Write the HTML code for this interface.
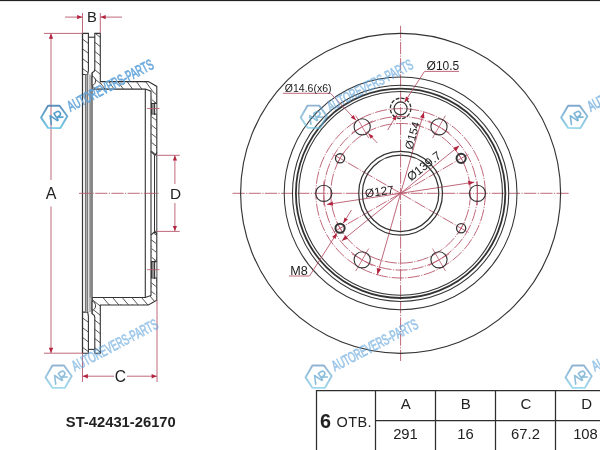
<!DOCTYPE html>
<html><head><meta charset="utf-8"><style>
html,body{margin:0;padding:0;background:#fff;}
svg{display:block;will-change:transform;}
text{font-family:"Liberation Sans",sans-serif;}
</style></head><body>
<svg width="600" height="450" viewBox="0 0 600 450">
<rect width="600" height="450" fill="#fff"/>
<rect x="0" y="0" width="600" height="1" fill="#222"/><rect x="0" y="1" width="600" height="1" fill="#e6e6e6"/>
<line x1="232.50" y1="193.30" x2="569.00" y2="193.30" stroke="#b8586c" stroke-width="0.9" stroke-dasharray="12.2 1.4 1.2 1.4"/>
<line x1="400.60" y1="25.80" x2="400.60" y2="361.00" stroke="#b8586c" stroke-width="0.9" stroke-dasharray="12.2 1.4 1.2 1.4"/>
<circle cx="400.6" cy="193.3" r="69.85" fill="none" stroke="#b8586c" stroke-width="0.9" stroke-dasharray="12.2 1.4 1.2 1.4"/>
<circle cx="400.6" cy="193.3" r="76.8" fill="none" stroke="#b8586c" stroke-width="0.9" stroke-dasharray="12.2 1.4 1.2 1.4"/>
<circle cx="400.6" cy="193.3" r="84.7" fill="none" stroke="#b8586c" stroke-width="0.9" stroke-dasharray="12.2 1.4 1.2 1.4"/>
<line x1="400.60" y1="193.30" x2="469.02" y2="153.80" stroke="#b8586c" stroke-width="0.9" stroke-dasharray="12.2 1.4 1.2 1.4"/>
<line x1="400.60" y1="193.30" x2="332.18" y2="153.80" stroke="#b8586c" stroke-width="0.9" stroke-dasharray="12.2 1.4 1.2 1.4"/>
<line x1="400.60" y1="193.30" x2="332.18" y2="232.80" stroke="#b8586c" stroke-width="0.9" stroke-dasharray="12.2 1.4 1.2 1.4"/>
<line x1="400.60" y1="193.30" x2="469.02" y2="232.80" stroke="#b8586c" stroke-width="0.9" stroke-dasharray="12.2 1.4 1.2 1.4"/>
<line x1="477.40" y1="181.30" x2="477.40" y2="205.30" stroke="#b8586c" stroke-width="0.8" />
<line x1="445.50" y1="115.53" x2="432.50" y2="138.05" stroke="#b8586c" stroke-width="0.8" />
<line x1="428.61" y1="120.79" x2="449.39" y2="132.79" stroke="#b8586c" stroke-width="0.8" />
<line x1="355.70" y1="115.53" x2="368.70" y2="138.05" stroke="#b8586c" stroke-width="0.8" />
<line x1="351.81" y1="132.79" x2="372.59" y2="120.79" stroke="#b8586c" stroke-width="0.8" />
<line x1="323.80" y1="205.30" x2="323.80" y2="181.30" stroke="#b8586c" stroke-width="0.8" />
<line x1="355.70" y1="271.07" x2="368.70" y2="248.55" stroke="#b8586c" stroke-width="0.8" />
<line x1="372.59" y1="265.81" x2="351.81" y2="253.81" stroke="#b8586c" stroke-width="0.8" />
<line x1="445.50" y1="271.07" x2="432.50" y2="248.55" stroke="#b8586c" stroke-width="0.8" />
<line x1="449.39" y1="253.81" x2="428.61" y2="265.81" stroke="#b8586c" stroke-width="0.8" />
<line x1="457.89" y1="152.72" x2="464.39" y2="163.98" stroke="#b8586c" stroke-width="0.8" />
<line x1="336.81" y1="163.98" x2="343.31" y2="152.72" stroke="#b8586c" stroke-width="0.8" />
<line x1="343.31" y1="233.88" x2="336.81" y2="222.62" stroke="#b8586c" stroke-width="0.8" />
<line x1="464.39" y1="222.62" x2="457.89" y2="233.88" stroke="#b8586c" stroke-width="0.8" />
<line x1="474.26" y1="182.16" x2="326.94" y2="204.44" stroke="#b8586c" stroke-width="0.9" />
<path d="M474.26,182.16 L468.67,185.33 L467.99,180.78 Z" fill="#b3243f"/>
<path d="M326.94,204.44 L332.53,201.27 L333.21,205.82 Z" fill="#b3243f"/>
<line x1="459.27" y1="145.79" x2="341.93" y2="240.81" stroke="#b8586c" stroke-width="0.9" />
<path d="M459.27,145.79 L456.06,151.35 L453.16,147.77 Z" fill="#b3243f"/>
<path d="M341.93,240.81 L345.14,235.25 L348.04,238.83 Z" fill="#b3243f"/>
<line x1="423.86" y1="112.17" x2="377.34" y2="274.43" stroke="#b8586c" stroke-width="0.9" />
<path d="M423.86,112.17 L424.42,118.57 L420.00,117.30 Z" fill="#b3243f"/>
<path d="M377.34,274.43 L376.78,268.03 L381.20,269.30 Z" fill="#b3243f"/>
<circle cx="400.6" cy="193.3" r="160" fill="none" stroke="#333" stroke-width="1.15"/>
<circle cx="400.6" cy="193.3" r="116.4" fill="none" stroke="#333" stroke-width="1.05"/>
<circle cx="400.6" cy="193.3" r="108.15" fill="none" stroke="#333" stroke-width="1.05"/>
<circle cx="400.6" cy="193.3" r="104.7" fill="none" stroke="#333" stroke-width="1.8"/>
<circle cx="400.6" cy="193.3" r="101.85" fill="none" stroke="#333" stroke-width="1.05"/>
<circle cx="400.6" cy="193.3" r="41.9" fill="none" stroke="#333" stroke-width="1.25"/>
<circle cx="400.6" cy="193.3" r="38.2" fill="none" stroke="#333" stroke-width="1.25"/>
<circle cx="477.40" cy="193.30" r="8.1" fill="none" stroke="#333" stroke-width="1.1"/>
<circle cx="439.00" cy="126.79" r="8.1" fill="none" stroke="#333" stroke-width="1.1"/>
<circle cx="362.20" cy="126.79" r="8.1" fill="none" stroke="#333" stroke-width="1.1"/>
<circle cx="323.80" cy="193.30" r="8.1" fill="none" stroke="#333" stroke-width="1.1"/>
<circle cx="362.20" cy="259.81" r="8.1" fill="none" stroke="#333" stroke-width="1.1"/>
<circle cx="439.00" cy="259.81" r="8.1" fill="none" stroke="#333" stroke-width="1.1"/>
<circle cx="461.14" cy="158.35" r="4.6" fill="none" stroke="#333" stroke-width="2.0"/>
<circle cx="340.06" cy="158.35" r="4.6" fill="none" stroke="#333" stroke-width="1.3"/>
<circle cx="340.06" cy="228.25" r="4.6" fill="none" stroke="#333" stroke-width="2.0"/>
<circle cx="461.14" cy="228.25" r="4.6" fill="none" stroke="#333" stroke-width="1.3"/>
<circle cx="400.60" cy="108.40" r="6.5" fill="none" stroke="#333" stroke-width="1.2"/>
<circle cx="400.60" cy="108.40" r="10.25" fill="none" stroke="#333" stroke-width="1.3" stroke-dasharray="3.7 1.67"/>
<line x1="424.50" y1="71.40" x2="459.00" y2="71.40" stroke="#b8586c" stroke-width="0.9" />
<line x1="424.50" y1="71.40" x2="404.62" y2="102.18" stroke="#b8586c" stroke-width="0.9" />
<path d="M404.62,102.18 L405.92,96.48 L409.28,98.65 Z" fill="#b3243f"/>
<line x1="396.81" y1="114.75" x2="387.70" y2="130.00" stroke="#b8586c" stroke-width="0.9" />
<path d="M396.81,114.75 L395.70,120.50 L392.27,118.45 Z" fill="#b3243f"/>
<text x="426.60" y="70.00" font-size="12" text-anchor="start" font-weight="normal" fill="#222" >&#216;10.5</text>
<line x1="282.80" y1="93.30" x2="330.50" y2="93.30" stroke="#b8586c" stroke-width="0.9" />
<line x1="330.50" y1="93.30" x2="356.01" y2="120.25" stroke="#b8586c" stroke-width="0.9" />
<path d="M356.01,120.25 L350.78,117.63 L353.68,114.88 Z" fill="#b3243f"/>
<line x1="368.33" y1="133.38" x2="377.20" y2="142.90" stroke="#b8586c" stroke-width="0.9" />
<path d="M368.33,133.38 L373.54,136.04 L370.62,138.76 Z" fill="#b3243f"/>
<text x="284.80" y="92.00" font-size="10.5" text-anchor="start" font-weight="normal" fill="#222" >&#216;14.6(x6)</text>
<line x1="289.00" y1="276.00" x2="309.50" y2="276.00" stroke="#b8586c" stroke-width="0.9" />
<line x1="309.50" y1="276.00" x2="336.83" y2="233.30" stroke="#b8586c" stroke-width="0.9" />
<path d="M336.83,233.30 L335.55,239.01 L332.18,236.86 Z" fill="#b3243f"/>
<line x1="343.25" y1="223.17" x2="351.50" y2="210.00" stroke="#b8586c" stroke-width="0.9" />
<path d="M343.25,223.17 L344.48,217.44 L347.87,219.57 Z" fill="#b3243f"/>
<text x="290.30" y="274.70" font-size="12.6" text-anchor="start" font-weight="normal" fill="#222" >M8</text>
<text x="365.60" y="197.40" font-size="11.8" text-anchor="start" font-weight="normal" fill="#222" transform="rotate(-7.5 365.60 197.40)" >&#216;127</text>
<text x="411.00" y="181.40" font-size="12" text-anchor="start" font-weight="normal" fill="#222" transform="rotate(-38 411.00 181.40)" >&#216;139.7</text>
<text x="412.20" y="150.20" font-size="11.5" text-anchor="start" font-weight="normal" fill="#222" transform="rotate(-74 412.20 150.20)" >&#216;154</text>
<clipPath id="hc1"><polygon points="82.50,33.40 88.40,33.40 88.40,70.50 87.70,74.50 82.50,74.50"/></clipPath>
<path clip-path="url(#hc1)" d="M81.50,18.70 L89.40,24.65 M81.50,28.50 L89.40,34.45 M81.50,38.30 L89.40,44.25 M81.50,48.10 L89.40,54.05 M81.50,57.90 L89.40,63.85 M81.50,67.70 L89.40,73.65 M81.50,77.50 L89.40,83.45" stroke="#444" stroke-width="0.9" fill="none"/>
<polygon points="82.50,33.40 88.40,33.40 88.40,70.50 87.70,74.50 82.50,74.50" fill="none" stroke="#333" stroke-width="1.1"/>
<clipPath id="hc2"><polygon points="94.80,33.40 100.30,33.40 100.30,81.60 148.40,81.60 156.80,86.40 156.80,152.50 155.00,155.30 151.00,151.50 151.00,91.20 145.30,89.10 92.10,89.10 92.10,72.80 94.30,71.20 94.80,69.00"/></clipPath>
<path clip-path="url(#hc2)" d="M91.10,-25.22 L157.80,28.80 M91.10,-16.02 L157.80,38.00 M91.10,-6.82 L157.80,47.20 M91.10,2.38 L157.80,56.40 M91.10,11.58 L157.80,65.60 M91.10,20.78 L157.80,74.80 M91.10,29.98 L157.80,84.00 M91.10,39.18 L157.80,93.20 M91.10,48.38 L157.80,102.40 M91.10,57.58 L157.80,111.60 M91.10,66.78 L157.80,120.80 M91.10,75.98 L157.80,130.00 M91.10,85.18 L157.80,139.20 M91.10,94.38 L157.80,148.40 M91.10,103.58 L157.80,157.60 M91.10,112.78 L157.80,166.80 M91.10,121.98 L157.80,176.00 M91.10,131.18 L157.80,185.20 M91.10,140.38 L157.80,194.40 M91.10,149.58 L157.80,203.60 M91.10,158.78 L157.80,212.80" stroke="#444" stroke-width="0.9" fill="none"/>
<polygon points="100.90,82.20 148.20,82.20 156.20,86.80 156.20,152.00 155.00,154.50 151.60,151.20 151.60,91.60 145.20,89.60 100.90,88.60" fill="#fff"/>
<clipPath id="hc3"><polygon points="100.30,81.60 148.40,81.60 156.80,86.40 156.80,152.50 155.00,155.30 151.00,151.50 151.00,91.20 145.30,89.10 100.30,89.10"/></clipPath>
<path clip-path="url(#hc3)" d="M99.30,-7.57 L157.80,72.95 M99.30,5.13 L157.80,85.65 M99.30,17.83 L157.80,98.35 M99.30,30.53 L157.80,111.05 M99.30,43.23 L157.80,123.75 M99.30,55.93 L157.80,136.45 M99.30,68.63 L157.80,149.15 M99.30,81.33 L157.80,161.85 M99.30,94.03 L157.80,174.55 M99.30,106.73 L157.80,187.25 M99.30,119.43 L157.80,199.95 M99.30,132.13 L157.80,212.65 M99.30,144.83 L157.80,225.35 M99.30,157.53 L157.80,238.05" stroke="#444" stroke-width="0.9" fill="none"/>
<polygon points="151.60,92.00 156.20,92.00 156.20,152.00 155.00,154.50 151.60,151.20" fill="#fff"/>
<clipPath id="hc4"><polygon points="151.60,92.00 156.20,92.00 156.20,152.00 155.00,154.50 151.60,151.20"/></clipPath>
<path clip-path="url(#hc4)" d="M150.60,81.52 L157.20,86.68 M150.60,90.12 L157.20,95.28 M150.60,98.72 L157.20,103.88 M150.60,107.32 L157.20,112.48 M150.60,115.92 L157.20,121.08 M150.60,124.52 L157.20,129.68 M150.60,133.12 L157.20,138.28 M150.60,141.72 L157.20,146.88 M150.60,150.32 L157.20,155.48 M150.60,158.92 L157.20,164.08" stroke="#444" stroke-width="0.9" fill="none"/>
<polygon points="94.80,33.40 100.30,33.40 100.30,81.60 148.40,81.60 156.80,86.40 156.80,152.50 155.00,155.30 151.00,151.50 151.00,91.20 145.30,89.10 92.10,89.10 92.10,72.80 94.30,71.20 94.80,69.00" fill="none" stroke="#333" stroke-width="1.1"/>
<clipPath id="hc5"><polygon points="82.50,353.20 88.40,353.20 88.40,316.10 87.70,312.10 82.50,312.10"/></clipPath>
<path clip-path="url(#hc5)" d="M81.50,297.50 L89.40,303.45 M81.50,307.30 L89.40,313.25 M81.50,317.10 L89.40,323.05 M81.50,326.90 L89.40,332.85 M81.50,336.70 L89.40,342.65 M81.50,346.50 L89.40,352.45 M81.50,356.30 L89.40,362.25" stroke="#444" stroke-width="0.9" fill="none"/>
<polygon points="82.50,353.20 88.40,353.20 88.40,316.10 87.70,312.10 82.50,312.10" fill="none" stroke="#333" stroke-width="1.1"/>
<clipPath id="hc6"><polygon points="94.80,353.20 100.30,353.20 100.30,305.00 148.40,305.00 156.80,300.20 156.80,234.10 155.00,231.30 151.00,235.10 151.00,295.40 145.30,297.50 92.10,297.50 92.10,313.80 94.30,315.40 94.80,317.60"/></clipPath>
<path clip-path="url(#hc6)" d="M91.10,169.88 L157.80,223.90 M91.10,179.08 L157.80,233.10 M91.10,188.28 L157.80,242.30 M91.10,197.48 L157.80,251.50 M91.10,206.68 L157.80,260.70 M91.10,215.88 L157.80,269.90 M91.10,225.08 L157.80,279.10 M91.10,234.28 L157.80,288.30 M91.10,243.48 L157.80,297.50 M91.10,252.68 L157.80,306.70 M91.10,261.88 L157.80,315.90 M91.10,271.08 L157.80,325.10 M91.10,280.28 L157.80,334.30 M91.10,289.48 L157.80,343.50 M91.10,298.68 L157.80,352.70 M91.10,307.88 L157.80,361.90 M91.10,317.08 L157.80,371.10 M91.10,326.28 L157.80,380.30 M91.10,335.48 L157.80,389.50 M91.10,344.68 L157.80,398.70 M91.10,353.88 L157.80,407.90" stroke="#444" stroke-width="0.9" fill="none"/>
<polygon points="100.90,304.40 148.20,304.40 156.20,299.80 156.20,234.60 155.00,232.10 151.60,235.40 151.60,295.00 145.20,297.00 100.90,298.00" fill="#fff"/>
<clipPath id="hc7"><polygon points="100.30,305.00 148.40,305.00 156.80,300.20 156.80,234.10 155.00,231.30 151.00,235.10 151.00,295.40 145.30,297.50 100.30,297.50"/></clipPath>
<path clip-path="url(#hc7)" d="M99.30,155.15 L157.80,224.87 M99.30,166.65 L157.80,236.37 M99.30,178.15 L157.80,247.87 M99.30,189.65 L157.80,259.37 M99.30,201.15 L157.80,270.87 M99.30,212.65 L157.80,282.37 M99.30,224.15 L157.80,293.87 M99.30,235.65 L157.80,305.37 M99.30,247.15 L157.80,316.87 M99.30,258.65 L157.80,328.37 M99.30,270.15 L157.80,339.87 M99.30,281.65 L157.80,351.37 M99.30,293.15 L157.80,362.87 M99.30,304.65 L157.80,374.37 M99.30,316.15 L157.80,385.87" stroke="#444" stroke-width="0.9" fill="none"/>
<polygon points="151.60,294.60 156.20,294.60 156.20,234.60 155.00,232.10 151.60,235.40" fill="#fff"/>
<clipPath id="hc8"><polygon points="151.60,294.60 156.20,294.60 156.20,234.60 155.00,232.10 151.60,235.40"/></clipPath>
<path clip-path="url(#hc8)" d="M150.60,222.02 L157.20,227.18 M150.60,230.62 L157.20,235.78 M150.60,239.22 L157.20,244.38 M150.60,247.82 L157.20,252.98 M150.60,256.42 L157.20,261.58 M150.60,265.02 L157.20,270.18 M150.60,273.62 L157.20,278.78 M150.60,282.22 L157.20,287.38 M150.60,290.82 L157.20,295.98 M150.60,299.42 L157.20,304.58" stroke="#444" stroke-width="0.9" fill="none"/>
<polygon points="94.80,353.20 100.30,353.20 100.30,305.00 148.40,305.00 156.80,300.20 156.80,234.10 155.00,231.30 151.00,235.10 151.00,295.40 145.30,297.50 92.10,297.50 92.10,313.80 94.30,315.40 94.80,317.60" fill="none" stroke="#333" stroke-width="1.1"/>
<rect x="151.6" y="103.5" width="4.7" height="10.5" fill="#fff"/>
<rect x="151.8" y="104.1" width="2.6" height="9.3" fill="#9a9a9a"/>
<path d="M151,103.5 H156.8 M151,114 H156.8" stroke="#333" stroke-width="1.1" fill="none"/>
<path d="M151.6,103.5 V114 M154.6,102.5 V115" stroke="#333" stroke-width="1.1" fill="none"/>
<line x1="147.00" y1="108.50" x2="159.50" y2="108.50" stroke="#b8586c" stroke-width="0.8" />
<rect x="151.6" y="261.6" width="4.7" height="16.399999999999977" fill="#fff"/>
<rect x="151.8" y="262.20000000000005" width="2.6" height="15.199999999999978" fill="#9a9a9a"/>
<path d="M151,261.6 H156.8 M151,278 H156.8" stroke="#333" stroke-width="1.1" fill="none"/>
<path d="M151.6,261.6 V278 M154.6,260.6 V279" stroke="#333" stroke-width="1.1" fill="none"/>
<line x1="147.00" y1="269.70" x2="159.50" y2="269.70" stroke="#b8586c" stroke-width="0.8" />
<path d="M88.4,37.2 H95" stroke="#333" stroke-width="1.1"/>
<path d="M88.4,349.40000000000003 H95" stroke="#333" stroke-width="1.1"/>
<rect x="84.8" y="74.5" width="3.3" height="237.60" fill="#b4b4b4"/>
<rect x="89.6" y="89.1" width="2.5" height="208.40" fill="#aeaeae"/>
<g stroke="#666" stroke-width="0.9" fill="none">
<path d="M85.6,74.5 V312.10"/>
<path d="M87.7,74.5 V312.10"/>
<path d="M90.0,74.5 V312.10"/>
</g>
<path d="M82.5,33.4 V353.2" stroke="#333" stroke-width="1.2"/>
<path d="M92.1,72.8 V313.80" stroke="#444" stroke-width="1"/>
<path d="M145.3,89.1 V297.50" stroke="#333" stroke-width="1.1"/>
<path d="M151,151.5 V235.10" stroke="#333" stroke-width="1.1"/>
<path d="M154.5,155.3 V231.30 M156.8,152.5 V234.10" stroke="#333" stroke-width="1"/>
<path d="M92.1,76.4 C96.6,76.8 96.8,84.6 92.1,85.4 Z" stroke="#333" stroke-width="1" fill="#fff"/>
<path d="M92.1,310.20000000000005 C96.6,309.8 96.8,302.0 92.1,301.20000000000005 Z" stroke="#333" stroke-width="1" fill="#fff"/>
<line x1="44.00" y1="33.40" x2="82.50" y2="33.40" stroke="#b8586c" stroke-width="0.9" />
<line x1="44.00" y1="353.20" x2="82.50" y2="353.20" stroke="#b8586c" stroke-width="0.9" />
<line x1="51.00" y1="33.40" x2="51.00" y2="180.00" stroke="#b8586c" stroke-width="0.9" />
<line x1="51.00" y1="206.50" x2="51.00" y2="353.20" stroke="#b8586c" stroke-width="0.9" />
<path d="M51.00,33.60 L53.20,38.80 L48.80,38.80 Z" fill="#b3243f"/>
<path d="M51.00,353.00 L48.80,347.80 L53.20,347.80 Z" fill="#b3243f"/>
<text x="51.20" y="199.20" font-size="16" text-anchor="middle" font-weight="normal" fill="#222" >A</text>
<line x1="82.50" y1="13.00" x2="82.50" y2="33.40" stroke="#b8586c" stroke-width="0.9" />
<line x1="100.30" y1="13.00" x2="100.30" y2="33.40" stroke="#b8586c" stroke-width="0.9" />
<line x1="65.00" y1="17.10" x2="82.50" y2="17.10" stroke="#b8586c" stroke-width="0.9" />
<line x1="100.30" y1="17.10" x2="122.00" y2="17.10" stroke="#b8586c" stroke-width="0.9" />
<path d="M82.30,17.10 L77.10,19.30 L77.10,14.90 Z" fill="#b3243f"/>
<path d="M100.50,17.10 L105.70,14.90 L105.70,19.30 Z" fill="#b3243f"/>
<text x="92.00" y="21.80" font-size="14.8" text-anchor="middle" font-weight="normal" fill="#222" >B</text>
<line x1="82.50" y1="353.20" x2="82.50" y2="382.00" stroke="#b8586c" stroke-width="0.9" />
<line x1="157.00" y1="300.00" x2="157.00" y2="382.00" stroke="#b8586c" stroke-width="0.9" />
<line x1="82.50" y1="376.20" x2="114.00" y2="376.20" stroke="#b8586c" stroke-width="0.9" />
<line x1="127.00" y1="376.20" x2="157.00" y2="376.20" stroke="#b8586c" stroke-width="0.9" />
<path d="M82.70,376.20 L87.90,374.00 L87.90,378.40 Z" fill="#b3243f"/>
<path d="M156.80,376.20 L151.60,378.40 L151.60,374.00 Z" fill="#b3243f"/>
<text x="120.45" y="381.60" font-size="15.6" text-anchor="middle" font-weight="normal" fill="#222" >C</text>
<line x1="157.00" y1="155.30" x2="179.70" y2="155.30" stroke="#b8586c" stroke-width="0.9" />
<line x1="157.00" y1="231.40" x2="179.70" y2="231.40" stroke="#b8586c" stroke-width="0.9" />
<line x1="174.90" y1="155.50" x2="174.90" y2="184.00" stroke="#b8586c" stroke-width="0.9" />
<line x1="174.90" y1="203.00" x2="174.90" y2="231.20" stroke="#b8586c" stroke-width="0.9" />
<path d="M174.90,155.60 L177.00,160.60 L172.80,160.60 Z" fill="#b3243f"/>
<path d="M174.90,231.10 L172.80,226.10 L177.00,226.10 Z" fill="#b3243f"/>
<text x="175.60" y="198.90" font-size="15.4" text-anchor="middle" font-weight="normal" fill="#222" >D</text>
<line x1="79.00" y1="193.30" x2="160.00" y2="193.30" stroke="#b8586c" stroke-width="0.9" stroke-dasharray="12.2 1.4 1.2 1.4"/>
<g stroke="#2e2e2e" stroke-width="1.25" fill="none">
<path d="M315.9,390.5 H600 M375.5,420.5 H600 M316.5,390 V452 M375.5,390 V452 M435.5,390 V452 M495.5,390 V452 M555.5,390 V452"/>
</g>
<text x="405.80" y="409.00" font-size="15" text-anchor="middle" font-weight="normal" fill="#222" >A</text>
<text x="405.50" y="439.00" font-size="14.8" text-anchor="middle" font-weight="normal" fill="#222" >291</text>
<text x="465.80" y="409.00" font-size="15" text-anchor="middle" font-weight="normal" fill="#222" >B</text>
<text x="465.50" y="439.00" font-size="14.8" text-anchor="middle" font-weight="normal" fill="#222" >16</text>
<text x="525.80" y="409.00" font-size="15" text-anchor="middle" font-weight="normal" fill="#222" >C</text>
<text x="525.50" y="439.00" font-size="14.8" text-anchor="middle" font-weight="normal" fill="#222" >67.2</text>
<text x="586.70" y="409.00" font-size="15" text-anchor="middle" font-weight="normal" fill="#222" >D</text>
<text x="585.50" y="439.00" font-size="14.8" text-anchor="middle" font-weight="normal" fill="#222" >108</text>
<text x="320.00" y="427.60" font-size="19.8" text-anchor="start" font-weight="bold" fill="#222" >6</text>
<text x="336.60" y="427.30" font-size="14.5" text-anchor="start" font-weight="normal" fill="#222" textLength="35">ОТВ.</text>
<text x="65.80" y="426.80" font-size="14.3" text-anchor="start" font-weight="bold" fill="#222" textLength="110" lengthAdjust="spacingAndGlyphs">ST-42431-26170</text>
<defs><linearGradient id="wg" x1="0" y1="0" x2="0" y2="1"><stop offset="0" stop-color="#4a86b8"/><stop offset="1" stop-color="#66c2e2"/></linearGradient></defs>
<g transform="translate(54.2,116.8)" opacity="0.9">
<path d="M-13.1,0.8 L-6.2,-11.1 L5.4,-11.1 L13.1,-0.6 L6.2,11.3 L-6.2,11.1 Z" fill="none" stroke="url(#wg)" stroke-width="1.9" stroke-linejoin="round"/>
<g transform="translate(0.8,0.6) rotate(-32) scale(0.8)" fill="none" stroke="#4596c6" stroke-width="2.0" stroke-linecap="round" stroke-linejoin="round"><path d="M-8.5,5 L-4,-5 L0.3,5"/><path d="M1.5,5 V-4.8 H5.2 Q8.6,-4.8 8.6,-1.7 Q8.6,1.2 5.2,1.2 H2 L8.6,5"/></g>
</g>
<text x="70.6" y="111.8" transform="rotate(-27.5 70.6 111.8)" font-size="15" fill="#5fa3da" stroke="#5fa3da" stroke-width="0.75" opacity="0.9" textLength="95" lengthAdjust="spacingAndGlyphs">AUTOREVERS-PARTS</text>
<g transform="translate(313.8,116.7)" opacity="0.62">
<path d="M-13.1,0.8 L-6.2,-11.1 L5.4,-11.1 L13.1,-0.6 L6.2,11.3 L-6.2,11.1 Z" fill="none" stroke="url(#wg)" stroke-width="1.9" stroke-linejoin="round"/>
<g transform="translate(0.8,0.6) rotate(-32) scale(0.8)" fill="none" stroke="#4596c6" stroke-width="2.0" stroke-linecap="round" stroke-linejoin="round"><path d="M-8.5,5 L-4,-5 L0.3,5"/><path d="M1.5,5 V-4.8 H5.2 Q8.6,-4.8 8.6,-1.7 Q8.6,1.2 5.2,1.2 H2 L8.6,5"/></g>
</g>
<text x="330.2" y="111.7" transform="rotate(-27.5 330.2 111.7)" font-size="15" fill="#5fa3da" stroke="#5fa3da" stroke-width="0.75" opacity="0.62" textLength="95" lengthAdjust="spacingAndGlyphs">AUTOREVERS-PARTS</text>
<g transform="translate(574.3,116.8)" opacity="0.7">
<path d="M-13.1,0.8 L-6.2,-11.1 L5.4,-11.1 L13.1,-0.6 L6.2,11.3 L-6.2,11.1 Z" fill="none" stroke="url(#wg)" stroke-width="1.9" stroke-linejoin="round"/>
<g transform="translate(0.8,0.6) rotate(-32) scale(0.8)" fill="none" stroke="#4596c6" stroke-width="2.0" stroke-linecap="round" stroke-linejoin="round"><path d="M-8.5,5 L-4,-5 L0.3,5"/><path d="M1.5,5 V-4.8 H5.2 Q8.6,-4.8 8.6,-1.7 Q8.6,1.2 5.2,1.2 H2 L8.6,5"/></g>
</g>
<text x="590.7" y="111.8" transform="rotate(-27.5 590.7 111.8)" font-size="15" fill="#5fa3da" stroke="#5fa3da" stroke-width="0.75" opacity="0.7" textLength="95" lengthAdjust="spacingAndGlyphs">AUTOREVERS-PARTS</text>
<g transform="translate(58.6,376.6)" opacity="0.6">
<path d="M-13.1,0.8 L-6.2,-11.1 L5.4,-11.1 L13.1,-0.6 L6.2,11.3 L-6.2,11.1 Z" fill="none" stroke="url(#wg)" stroke-width="1.9" stroke-linejoin="round"/>
<g transform="translate(0.8,0.6) rotate(-32) scale(0.8)" fill="none" stroke="#4596c6" stroke-width="2.0" stroke-linecap="round" stroke-linejoin="round"><path d="M-8.5,5 L-4,-5 L0.3,5"/><path d="M1.5,5 V-4.8 H5.2 Q8.6,-4.8 8.6,-1.7 Q8.6,1.2 5.2,1.2 H2 L8.6,5"/></g>
</g>
<text x="75.0" y="371.6" transform="rotate(-27.5 75.0 371.6)" font-size="15" fill="#5fa3da" stroke="#5fa3da" stroke-width="0.75" opacity="0.6" textLength="95" lengthAdjust="spacingAndGlyphs">AUTOREVERS-PARTS</text>
<g transform="translate(318.6,376.6)" opacity="0.62">
<path d="M-13.1,0.8 L-6.2,-11.1 L5.4,-11.1 L13.1,-0.6 L6.2,11.3 L-6.2,11.1 Z" fill="none" stroke="url(#wg)" stroke-width="1.9" stroke-linejoin="round"/>
<g transform="translate(0.8,0.6) rotate(-32) scale(0.8)" fill="none" stroke="#4596c6" stroke-width="2.0" stroke-linecap="round" stroke-linejoin="round"><path d="M-8.5,5 L-4,-5 L0.3,5"/><path d="M1.5,5 V-4.8 H5.2 Q8.6,-4.8 8.6,-1.7 Q8.6,1.2 5.2,1.2 H2 L8.6,5"/></g>
</g>
<text x="335.0" y="371.6" transform="rotate(-27.5 335.0 371.6)" font-size="15" fill="#5fa3da" stroke="#5fa3da" stroke-width="0.75" opacity="0.62" textLength="95" lengthAdjust="spacingAndGlyphs">AUTOREVERS-PARTS</text>
<g transform="translate(578.6,376.6)" opacity="0.62">
<path d="M-13.1,0.8 L-6.2,-11.1 L5.4,-11.1 L13.1,-0.6 L6.2,11.3 L-6.2,11.1 Z" fill="none" stroke="url(#wg)" stroke-width="1.9" stroke-linejoin="round"/>
<g transform="translate(0.8,0.6) rotate(-32) scale(0.8)" fill="none" stroke="#4596c6" stroke-width="2.0" stroke-linecap="round" stroke-linejoin="round"><path d="M-8.5,5 L-4,-5 L0.3,5"/><path d="M1.5,5 V-4.8 H5.2 Q8.6,-4.8 8.6,-1.7 Q8.6,1.2 5.2,1.2 H2 L8.6,5"/></g>
</g>
<text x="595.0" y="371.6" transform="rotate(-27.5 595.0 371.6)" font-size="15" fill="#5fa3da" stroke="#5fa3da" stroke-width="0.75" opacity="0.62" textLength="95" lengthAdjust="spacingAndGlyphs">AUTOREVERS-PARTS</text>
</svg>
</body></html>
